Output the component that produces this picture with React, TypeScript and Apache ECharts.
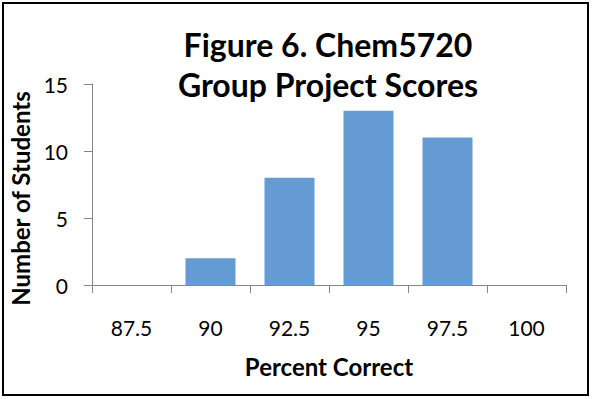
import React, { useEffect, useRef } from "react";
import * as echarts from "echarts";

const categories = ["87.5", "90", "92.5", "95", "97.5", "100"];
const students = [0, 2, 8, 13, 11, 0];
const yTicks = { min: 0, max: 15, interval: 5 };
const titleLines = ["Figure 6. Chem5720", "Group Project Scores"];
const xName = "Percent Correct";
const yName = "Number of Students";

const FONT = "Lato, 'Open Sans', sans-serif";

export default function App() {
  const ref = useRef<HTMLDivElement>(null);
  useEffect(() => {
    document.body.style.margin = "0";
    const chart = echarts.init(ref.current!, null, { renderer: "svg" });
    chart.setOption({
      animation: false,
      backgroundColor: "#ffffff",
      title: {
        text: titleLines.join("\n"),
        left: 323,
        top: 19,
        textAlign: "center",
        textStyle: {
          fontFamily: FONT,
          fontWeight: "bold",
          fontSize: 32,
          lineHeight: 40,
          color: "#000",
        },
      },
      graphic: [
        {
          type: "rect",
          shape: { x: 3, y: 3, width: 585, height: 392 },
          style: { fill: "none", stroke: "#000", lineWidth: 2 },
          silent: true,
          z: 100,
        },
      ],
      grid: { left: 92, right: 26, top: 84, bottom: 114 },
      xAxis: {
        type: "category",
        data: categories,
        name: xName,
        nameLocation: "middle",
        nameGap: 69,
        nameTextStyle: { fontFamily: FONT, fontWeight: "bold", fontSize: 24, color: "#000" },
        axisLine: { lineStyle: { color: "#868686", width: 1 } },
        axisTick: { show: true, length: 8, lineStyle: { color: "#868686" } },
        axisLabel: { fontFamily: FONT, fontSize: 21, color: "#000", margin: 32 },
      },
      yAxis: {
        type: "value",
        min: yTicks.min,
        max: yTicks.max,
        interval: yTicks.interval,
        name: yName,
        nameLocation: "middle",
        nameGap: 45,
        nameTextStyle: {
          fontFamily: FONT,
          fontWeight: "bold",
          fontSize: 24,
          color: "#000",
          padding: [0, 28, 0, 0],
        },
        axisLine: { show: true, lineStyle: { color: "#868686", width: 1 } },
        axisTick: { show: true, length: 8, lineStyle: { color: "#868686" } },
        splitLine: { show: false },
        axisLabel: { fontFamily: FONT, fontSize: 21, color: "#000", margin: 24 },
      },
      series: [
        {
          type: "bar",
          data: students,
          barWidth: 50,
          itemStyle: { color: "#659bd3", borderWidth: 0 },
        },
      ],
    });
    return () => chart.dispose();
  }, []);
  return (
    <div
      ref={ref}
      style={{ position: "fixed", left: 0, top: 0, width: 592, height: 399 }}
    />
  );
}
